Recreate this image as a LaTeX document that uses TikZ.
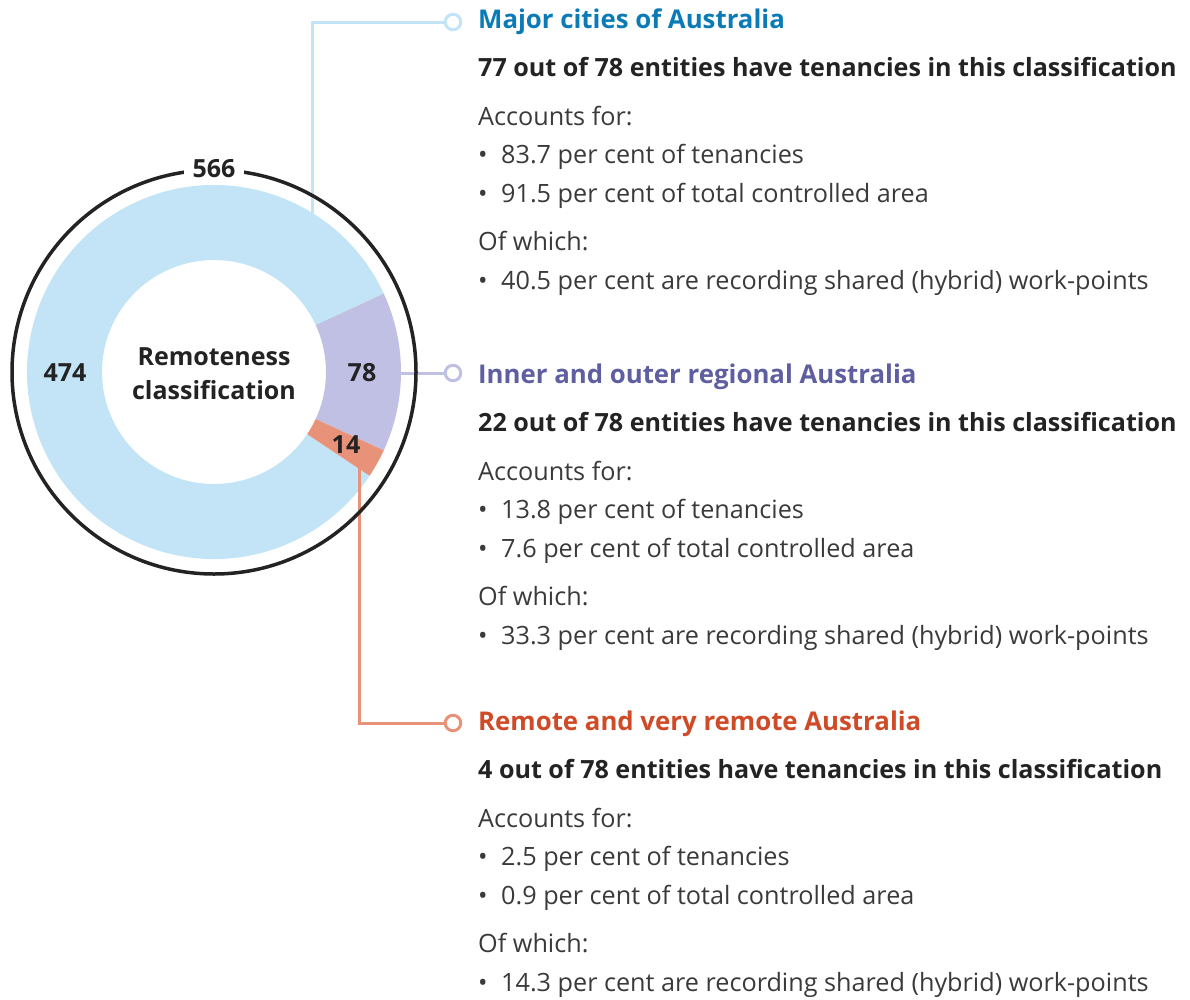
\documentclass[tikz,border=0pt]{standalone}
\usepackage{fontspec}
\setmainfont{Open Sans}
\usetikzlibrary{calc}
\definecolor{ringblue}{HTML}{C2E4F6}
\definecolor{ringpurple}{HTML}{C0C0E4}
\definecolor{ringorange}{HTML}{E8927A}
\definecolor{headblue}{HTML}{0B7BB7}
\definecolor{headpurple}{HTML}{5E5EA0}
\definecolor{headorange}{HTML}{CF4B27}
\definecolor{txt}{HTML}{232323}
\definecolor{bodytxt}{HTML}{3A3A3A}
\begin{document}
\begin{tikzpicture}[x=1pt,y=1pt,
  head/.style={anchor=base west, inner sep=0, font=\fontsize{25.8}{30}\selectfont\bfseries},
  sub/.style={anchor=base west, inner sep=0, text=txt, font=\fontsize{25.1}{30}\selectfont\bfseries},
  body/.style={anchor=base west, inner sep=0, text=bodytxt, font=\fontsize{25.2}{30}\selectfont},
  num/.style={anchor=base, font=\fontsize{25}{30}\selectfont\bfseries, text=txt, inner sep=0},
  conn/.style={line width=3pt},
  dot/.style={circle, draw, line width=3pt, fill=white, minimum size=15.5pt, inner sep=0}
]
\useasboundingbox (0,0) rectangle (1190,-999);
\coordinate (c) at (214,-372);
% donut
\fill[ringblue] ($(c)+(24.8:187)$) arc[start angle=24.8,end angle=326.3,radius=187pt] -- ($(c)+(326.3:112)$) arc[start angle=326.3,end angle=24.8,radius=112pt] -- cycle;
\fill[ringpurple] ($(c)+(-24.8:187)$) arc[start angle=-24.8,end angle=24.8,radius=187pt] -- ($(c)+(24.8:112)$) arc[start angle=24.8,end angle=-24.8,radius=112pt] -- cycle;
\fill[ringorange] ($(c)+(-33.7:187)$) arc[start angle=-33.7,end angle=-24.8,radius=187pt] -- ($(c)+(-24.8:112)$) arc[start angle=-24.8,end angle=-33.7,radius=112pt] -- cycle;
% connectors
\coordinate (bstart) at (312,-213);
\coordinate (bcorner) at (312,-22);
\node[dot, draw=ringblue] (d1) at (453,-22) {};
\draw[conn, ringblue] (bstart) -- (bcorner) -- (d1.west);
\coordinate (pstart) at (399,-373);
\node[dot, draw=ringpurple] (d2) at (453,-373) {};
\draw[conn, ringpurple] (pstart) -- (d2.west);
\coordinate (ostart) at (359,-462);
\coordinate (ocorner) at (359,-723);
\node[dot, draw=ringorange] (d3) at (453,-723) {};
\draw[conn, ringorange] (ostart) -- (ocorner) -- (d3.west);
% outer circle
\draw[line width=3.5pt, txt] (c) circle[radius=202pt];
\node[num, fill=white, inner xsep=9pt, inner ysep=3pt] (n566) at (214,-177) {566};
\node[num] (n474) at (65,-381) {474};
\node[num] (n78) at (362,-381) {78};
\node[num] (n14) at (346,-453) {14};
\node[num] (rem) at (214,-365) {Remoteness};
\node[num] (cls) at (214,-399) {classification};
% block 1
\node[head, text=headblue] (h1) at (478,-28) {Major cities of Australia};
\node[sub] (s1) at (478,-76) {77 out of 78 entities have tenancies in this classification};
\node[body] (a1) at (478,-125) {Accounts for:};
\node[body] (a1b1) at (478,-163) {\makebox[23pt][l]{•}83.7 per cent of tenancies};
\node[body] (a1b2) at (478,-202) {\makebox[23pt][l]{•}91.5 per cent of total controlled area};
\node[body] (w1) at (478,-250) {Of which:};
\node[body] (w1b1) at (478,-289) {\makebox[23pt][l]{•}40.5 per cent are recording shared (hybrid) work-points};
% block 2
\node[head, text=headpurple] (h2) at (478,-383) {Inner and outer regional Australia};
\node[sub] (s2) at (478,-431) {22 out of 78 entities have tenancies in this classification};
\node[body] (a2) at (478,-480) {Accounts for:};
\node[body] (a2b1) at (478,-518) {\makebox[23pt][l]{•}13.8 per cent of tenancies};
\node[body] (a2b2) at (478,-557) {\makebox[23pt][l]{•}7.6 per cent of total controlled area};
\node[body] (w2) at (478,-605) {Of which:};
\node[body] (w2b1) at (478,-644) {\makebox[23pt][l]{•}33.3 per cent are recording shared (hybrid) work-points};
% block 3
\node[head, text=headorange] (h3) at (478,-730) {Remote and very remote Australia};
\node[sub] (s3) at (478,-778) {4 out of 78 entities have tenancies in this classification};
\node[body] (a3) at (478,-827) {Accounts for:};
\node[body] (a3b1) at (478,-865) {\makebox[23pt][l]{•}2.5 per cent of tenancies};
\node[body] (a3b2) at (478,-904) {\makebox[23pt][l]{•}0.9 per cent of total controlled area};
\node[body] (w3) at (478,-952) {Of which:};
\node[body] (w3b1) at (478,-991) {\makebox[23pt][l]{•}14.3 per cent are recording shared (hybrid) work-points};
\end{tikzpicture}
\end{document}
